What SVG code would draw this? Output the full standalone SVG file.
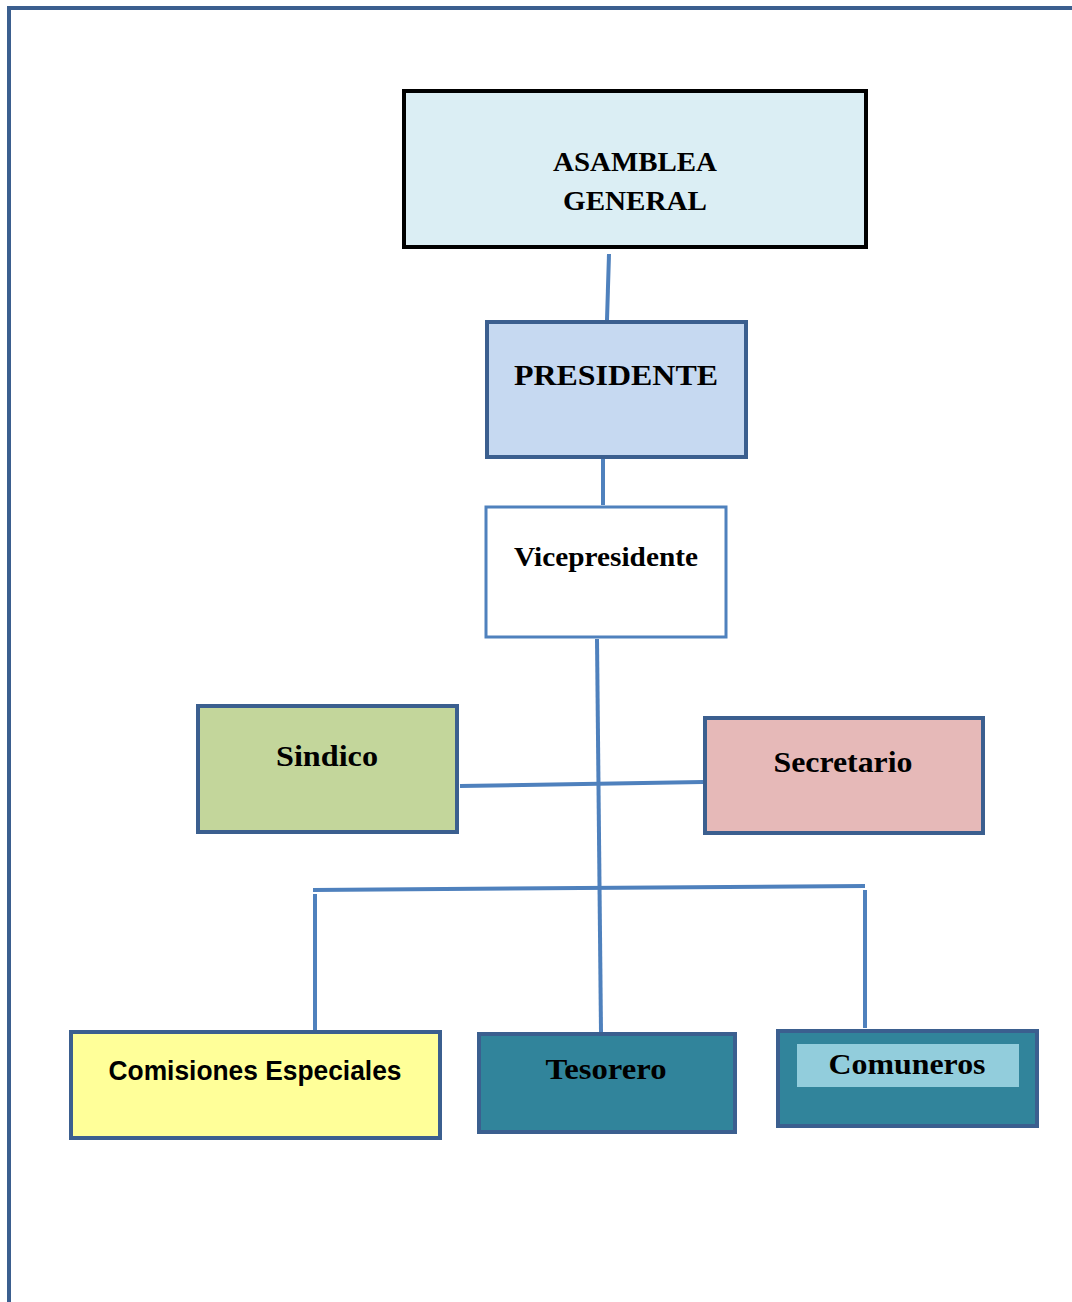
<svg xmlns="http://www.w3.org/2000/svg" width="1072" height="1302" viewBox="0 0 1072 1302">
<style>
.box{stroke:#3b5f8f;stroke-width:4}
.t{font-family:"Liberation Serif","Times New Roman",serif;font-weight:bold;text-anchor:middle;fill:#000}
.c{stroke:#4f81bd;stroke-width:4;fill:none}
</style>
<rect width="1072" height="1302" fill="#fff"/>
<path d="M9,1302 V8 H1072" fill="none" stroke="#3b5f8f" stroke-width="4"/>
<g id="connectors">
<line class="c" x1="609" y1="254" x2="607" y2="320"/>
<line class="c" x1="603" y1="459" x2="603" y2="505"/>
<line class="c" x1="597" y1="639" x2="601" y2="1032"/>
<line class="c" x1="460" y1="786" x2="703" y2="782"/>
<line class="c" x1="313" y1="890" x2="865" y2="886"/>
<line class="c" x1="315" y1="894" x2="315" y2="1030"/>
<line class="c" x1="865" y1="890" x2="865" y2="1028"/>
</g>
<g id="asamblea">
<rect x="404" y="91" width="462" height="156" fill="#dbeef4" stroke="#000" stroke-width="4"/>
<text class="t" x="635" y="171" font-size="27" textLength="164" lengthAdjust="spacingAndGlyphs">ASAMBLEA</text>
<text class="t" x="635" y="210" font-size="27" textLength="144" lengthAdjust="spacingAndGlyphs">GENERAL</text>
</g>
<g id="presidente">
<rect class="box" x="487" y="322" width="259" height="135" fill="#c6d9f1"/>
<text class="t" x="616" y="385" font-size="30" textLength="204" lengthAdjust="spacingAndGlyphs">PRESIDENTE</text>
</g>
<g id="vicepresidente">
<rect x="486" y="507" width="240" height="130" fill="#fff" stroke="#4f81bd" stroke-width="3"/>
<text class="t" x="606" y="566" font-size="28" textLength="184" lengthAdjust="spacingAndGlyphs">Vicepresidente</text>
</g>
<g id="sindico">
<rect class="box" x="198" y="706" width="259" height="126" fill="#c3d69b"/>
<text class="t" x="327" y="766" font-size="30" textLength="102" lengthAdjust="spacingAndGlyphs">Sindico</text>
</g>
<g id="secretario">
<rect class="box" x="705" y="718" width="278" height="115" fill="#e6b9b8"/>
<text class="t" x="843" y="772" font-size="30" textLength="139" lengthAdjust="spacingAndGlyphs">Secretario</text>
</g>
<g id="comisiones">
<rect class="box" x="71" y="1032" width="369" height="106" fill="#ffff99"/>
<text x="255" y="1080" font-size="27" font-family="Liberation Sans, Arial, sans-serif" font-weight="bold" text-anchor="middle" textLength="293" lengthAdjust="spacingAndGlyphs">Comisiones Especiales</text>
</g>
<g id="tesorero">
<rect class="box" x="479" y="1034" width="256" height="98" fill="#31849b"/>
<text class="t" x="606" y="1079" font-size="30" textLength="121" lengthAdjust="spacingAndGlyphs">Tesorero</text>
</g>
<g id="comuneros">
<rect class="box" x="778" y="1031" width="259" height="95" fill="#31849b"/>
<rect x="797" y="1044" width="222" height="43" fill="#92cddc"/>
<text class="t" x="907" y="1074" font-size="30" textLength="157" lengthAdjust="spacingAndGlyphs">Comuneros</text>
</g>
</svg>
